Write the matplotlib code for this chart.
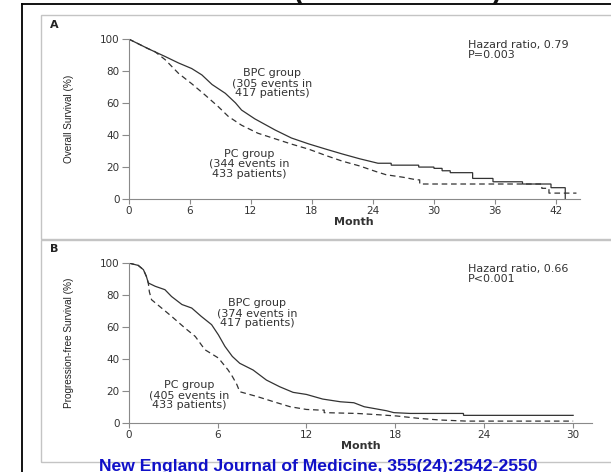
import matplotlib
matplotlib.use("Agg")
import matplotlib.pyplot as plt
from matplotlib.patches import Rectangle
from matplotlib.lines import Line2D

# ---- Overall survival (panel A) ----
os_bpc_month = [0, 1.9, 3.6, 4.9, 6.2, 7.2, 8.2, 9.5, 10.5, 11.1, 12.4, 14.4, 16.0, 17.7,
                19.4, 21.0, 22.7, 24.5,
                25.8, 25.8, 28.5, 28.5, 30.0, 30.0, 30.8, 30.8, 31.6, 31.6, 33.8, 33.8,
                35.8, 35.8, 38.7, 38.7, 41.5, 41.5, 42.9, 42.9]
os_bpc_surv = [100, 94, 89, 85, 81.5, 77.5, 71.5, 66, 60, 55.5, 50, 43, 38, 34.3,
               31, 28, 25, 22.2,
               22.2, 21.0, 21.0, 19.8, 19.8, 19.0, 19.0, 17.5, 17.5, 16.3, 16.3, 12.7,
               12.7, 10.6, 10.6, 9.2, 9.2, 6.9, 6.9, 0]
os_pc_month = [0, 1.9, 2.6, 3.6, 4.9, 6.2, 7.5, 8.8, 9.8, 11.1, 12.7, 14.4, 16.0, 17.7,
               19.4, 21.0, 22.7, 24.3, 25.3, 27.0, 28.3, 28.6, 28.6, 40.6, 40.6,
               41.3, 41.3, 44.0]
os_pc_surv = [100, 94, 92, 87, 78.5, 72, 65, 57.7, 51.5, 46, 41, 37.5, 34.2, 31,
              27, 23.5, 20.5, 17, 15, 13.4, 11.8, 11.8, 9.2, 9.2, 6.5,
              6.5, 3.5, 3.5]

# ---- Progression-free survival (panel B) ----
pfs_bpc_month = [0, 0.65, 1.0, 1.2, 1.33, 1.8, 2.45, 2.9, 3.6, 4.26, 4.9, 5.6, 6.06, 6.5,
                 7.0, 7.5, 8.4, 9.3, 10.2, 11.1, 12.0, 13.1, 14.3, 15.2, 15.9, 16.5,
                 17.4, 17.9, 19.0, 22.6, 22.6, 30.0]
pfs_bpc_surv = [100, 98.5, 95.8, 91.6, 87.5, 85.4, 83.3, 79, 74, 71.8, 66.6, 61.4, 55, 47.8,
                41.5, 37.2, 33, 26.7, 22.5, 19, 17.7, 14.8, 13.1, 12.5, 10, 9,
                7.5, 6.3, 5.8, 5.8, 4.6, 4.6]
pfs_pc_month = [0, 0.65, 1.0, 1.2, 1.33, 1.4, 1.55, 2.2, 2.9, 3.8, 4.5, 5.15, 6.06, 6.7,
                7.0, 7.3, 7.5, 8.7, 9.8, 10.9, 12.0, 12.9, 13.2, 13.2, 15.4, 16.5,
                18.1, 19.6, 21.0, 22.8, 30.0]
pfs_pc_surv = [100, 98.5, 95.8, 91.6, 87.5, 82, 77, 72, 66.6, 59.3, 54, 45.7, 40.5, 33.2,
               29, 24, 19.4, 16.3, 13.1, 10, 8.3, 7.9, 7.9, 6.3, 5.8, 5.2,
               4.2, 2.7, 1.7, 1.0, 1.0]

panels = [
    dict(tag="A", ylabel="Overall Survival (%)", xticks=[0, 6, 12, 18, 24, 30, 36, 42],
         xmax=44.3, bpc=(os_bpc_month, os_bpc_surv), pc=(os_pc_month, os_pc_surv),
         hr="Hazard ratio, 0.79\nP=0.003",
         bpc_txt="BPC group\n(305 events in\n417 patients)",
         pc_txt="PC group\n(344 events in\n433 patients)"),
    dict(tag="B", ylabel="Progression-free Survival (%)", xticks=[0, 6, 12, 18, 24, 30],
         xmax=31.3, bpc=(pfs_bpc_month, pfs_bpc_surv), pc=(pfs_pc_month, pfs_pc_surv),
         hr="Hazard ratio, 0.66\nP<0.001",
         bpc_txt="BPC group\n(374 events in\n417 patients)",
         pc_txt="PC group\n(405 events in\n433 patients)"),
]
yticks = [0, 20, 40, 60, 80, 100]

W, H = 611, 472
fig = plt.figure(figsize=(W / 100, H / 100), dpi=100)
fig.patch.set_facecolor("white")


def fx(px):
    return px / W


def fy(py):
    return 1 - py / H


# outer black frame (left and top edges)
fig.add_artist(Line2D([fx(22), fx(22)], [fy(4), fy(473)], color="black", lw=1.3))
fig.add_artist(Line2D([fx(22), fx(612)], [fy(4), fy(4)], color="black", lw=1.3))
# title running off the top edge
for x_px, ch in [(298, "("), (497, ")")]:
    fig.text(fx(x_px), fy(-8), ch, fontsize=20, fontweight="bold", ha="center",
             va="center", family="Liberation Sans", color="#111111")

# grey panel frames
for top, bot in [(15, 239), (240, 462)]:
    fig.add_artist(Rectangle((fx(41), fy(bot)), fx(613) - fx(41), fy(top) - fy(bot),
                             transform=fig.transFigure, fill=False, edgecolor="#c4c4c4",
                             lw=1.0))

txt_color = "#333333"
line_color = "#333333"
spine_color = "#8a8a8a"

axes_px = [
    # left, right, top (y=100), bottom (y=0)
    (128.6, 579.5, 39.0, 198.7),
    (128.6, 592.4, 263.0, 422.7),
]
label_px = [
    dict(tag=(54, 25), ylab=(69, 119), hr=(468, 50), bpc=(272, 83), pc=(249, 164)),
    dict(tag=(54, 249), ylab=(69, 343), hr=(468, 274), bpc=(257, 313), pc=(189, 395)),
]

for p, (l, r, t, b), lp in zip(panels, axes_px, label_px):
    ax = fig.add_axes([fx(l), fy(b), fx(r) - fx(l), fy(t) - fy(b)])
    ax.set_xlim(0, p["xmax"])
    ax.set_ylim(0, 100)
    ax.patch.set_alpha(0)
    for s in ["top", "right"]:
        ax.spines[s].set_visible(False)
    for s in ["left", "bottom"]:
        ax.spines[s].set_color(spine_color)
        ax.spines[s].set_linewidth(0.8)
    ax.set_xticks(p["xticks"])
    ax.set_yticks(yticks)
    ax.tick_params(axis="both", direction="out", color=spine_color, width=0.8,
                   labelcolor=txt_color, labelsize=7.5)
    ax.tick_params(axis="x", length=3.5, pad=2)
    ax.tick_params(axis="y", length=5, pad=1.5)
    ax.set_xlabel("Month", fontsize=8, fontweight="bold", color=txt_color, labelpad=0.5)

    ax.plot(*p["bpc"], color=line_color, lw=0.9, solid_joinstyle="miter")
    ax.plot(*p["pc"], color=line_color, lw=0.9, dashes=(4.5, 3))

    fig.text(fx(lp["tag"][0]), fy(lp["tag"][1]), p["tag"], fontsize=8, fontweight="bold",
             ha="center", va="center", color="#222222")
    fig.text(fx(lp["ylab"][0]), fy(lp["ylab"][1]), p["ylabel"], rotation=90, fontsize=7.2,
             ha="center", va="center", color="#222222", family="Liberation Sans")
    fig.text(fx(lp["hr"][0]), fy(lp["hr"][1]), p["hr"], fontsize=8, ha="left", va="center",
             color=txt_color, linespacing=1.0)
    fig.text(fx(lp["bpc"][0]), fy(lp["bpc"][1]), p["bpc_txt"], fontsize=8, ha="center",
             va="center", color=txt_color, linespacing=1.0)
    fig.text(fx(lp["pc"][0]), fy(lp["pc"][1]), p["pc_txt"], fontsize=8, ha="center",
             va="center", color=txt_color, linespacing=1.0)

fig.text(fx(318), fy(466), "New England Journal of Medicine, 355(24):2542-2550",
         fontsize=12.6, fontweight="bold", color="#1010c8", ha="center", va="center",
         family="Liberation Sans")

fig.savefig("out.png", dpi=100, facecolor="white")
